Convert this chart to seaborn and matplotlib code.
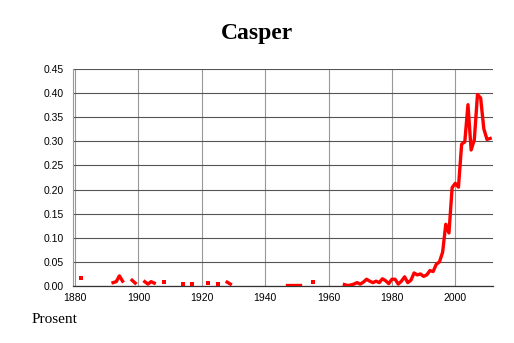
import numpy as np
import pandas as pd
import matplotlib
matplotlib.use("Agg")
import matplotlib.pyplot as plt
import seaborn as sns

# ---- data (share of births, percent) ----
years = ([1882]
         + [1892, 1893, 1894, 1895]
         + [1898, 1899]
         + [1902, 1903, 1904, 1905]
         + [1908, 1914, 1917, 1922, 1925]
         + [1928, 1929]
         + [1947, 1948, 1949, 1950, 1951]
         + [1955]
         + list(range(1965, 2012)))
shares = ([0.016]
          + [0.007, 0.009, 0.021, 0.010]
          + [0.012, 0.006]
          + [0.009, 0.004, 0.009, 0.006]
          + [0.009, 0.004, 0.004, 0.006, 0.004]
          + [0.008, 0.004]
          + [0.003, 0.003, 0.003, 0.003, 0.003]
          + [0.008]
          + [0.003, 0.001, 0.002, 0.004, 0.007, 0.004, 0.008, 0.014, 0.010, 0.007,
             0.010, 0.007, 0.015, 0.011, 0.005, 0.014, 0.014, 0.004, 0.010, 0.019,
             0.007, 0.012, 0.027, 0.023, 0.025, 0.020, 0.023, 0.032, 0.030, 0.045,
             0.050, 0.070, 0.128, 0.110, 0.204, 0.213, 0.205, 0.294, 0.299, 0.376,
             0.282, 0.303, 0.397, 0.390, 0.326, 0.304, 0.306])
x_ticks = [1880, 1900, 1920, 1940, 1960, 1980, 2000]
y_ticks = [0.00, 0.05, 0.10, 0.15, 0.20, 0.25, 0.30, 0.35, 0.40, 0.45]

df = pd.DataFrame({"year": years, "share": shares})
df["seg"] = (df["year"].diff().fillna(1) > 1).cumsum()
seg_size = df.groupby("seg")["year"].transform("size")
singles = df[seg_size == 1]

sns.set_style("white")
plt.rcParams["font.family"] = ["Liberation Sans", "DejaVu Sans"]
plt.rcParams["text.color"] = "black"

fig = plt.figure(figsize=(5.14, 3.43), dpi=100)
ax = fig.add_axes([72.5 / 514, 57 / 343, (493 - 72.5) / 514, (286 - 69) / 343])

sns.lineplot(data=df, x="year", y="share", units="seg", estimator=None,
             color="#ff0000", lw=2.4, legend=False, ax=ax, zorder=3,
             solid_capstyle="projecting", solid_joinstyle="round")
sns.scatterplot(data=singles, x="year", y="share", color="#ff0000", marker="s",
                s=5, linewidth=0, legend=False, ax=ax, zorder=3)

ax.set_xlim(1879.2, 2011.9)
ax.set_ylim(0, 0.45)
ax.set_xticks(x_ticks)
ax.set_xticklabels([str(t) for t in x_ticks])
ax.set_xticks(list(range(1885, 2012, 5)), minor=True)
ax.set_yticks(y_ticks)
ax.set_yticklabels([f"{t:.2f}" for t in y_ticks])
ax.set_xlabel("")
ax.set_ylabel("")

ax.yaxis.grid(True, color="#555555", lw=0.8)
ax.xaxis.grid(True, color="#999999", lw=0.8)
ax.set_axisbelow(True)
for s in ["top", "right"]:
    ax.spines[s].set_visible(False)
ax.spines["left"].set_color("#999999")
ax.spines["left"].set_linewidth(0.8)
ax.spines["bottom"].set_color("#333333")
ax.spines["bottom"].set_linewidth(0.9)

ax.tick_params(axis="y", length=0, pad=6, labelsize=7.5, labelcolor="black")
ax.tick_params(axis="x", which="major", length=0, pad=5, labelsize=7.5, labelcolor="black")
ax.tick_params(axis="x", which="minor", direction="in", length=3, color="#999999", width=0.7)

fig.text(0.5, 1 - 34 / 343, "Casper", ha="center", va="center", fontsize=17,
         fontweight="bold", color="black", family=["Liberation Serif", "DejaVu Serif"])
fig.text(32 / 514, 20 / 343, "Prosent", ha="left", va="baseline", fontsize=11,
         color="black", family=["Liberation Serif", "DejaVu Serif"])

fig.savefig("out.png", dpi=100, facecolor="white")
